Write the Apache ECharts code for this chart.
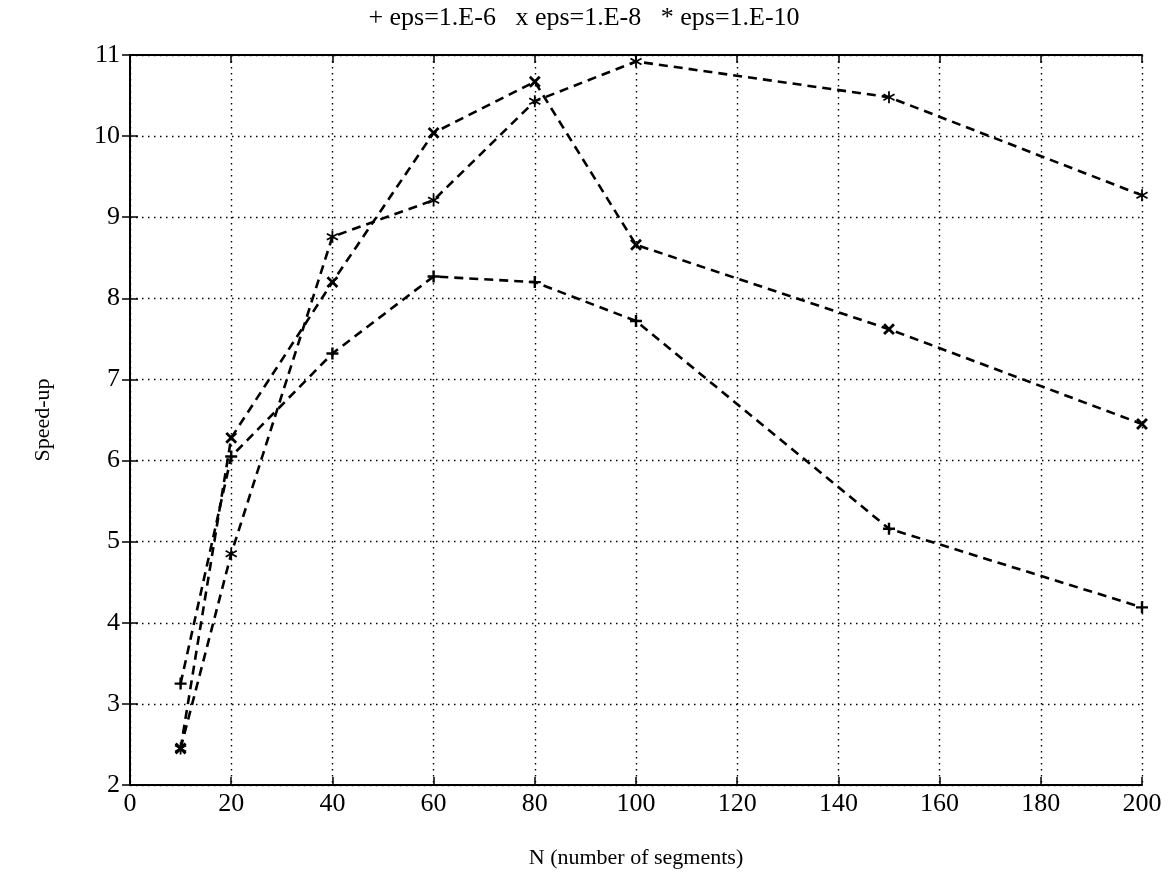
<!DOCTYPE html>
<html>
<head>
<meta charset="utf-8">
<script src="https://cdn.jsdelivr.net/npm/echarts@6/dist/echarts.min.js"></script>
<style>
html,body{margin:0;padding:0;background:#fff;}
#chart{width:1168px;height:887px;}
</style>
</head>
<body>
<div id="chart"></div>
<script>
const xValues = [10, 20, 40, 60, 80, 100, 150, 200];
const eps6 = [3.25, 6.05, 7.32, 8.27, 8.2, 7.72, 5.16, 4.19];
const eps8 = [2.45, 6.28, 8.2, 10.04, 10.67, 8.66, 7.62, 6.45];
const eps10 = [2.45, 4.85, 8.76, 9.21, 10.43, 10.92, 10.48, 9.27];
const legendText = '+ eps=1.E-6   x eps=1.E-8   * eps=1.E-10';
const xName = 'N (number of segments)';
const yName = 'Speed-up';

const font = 'Liberation Serif';
const plusPath = 'path://M4,0H6V4H10V6H6V10H4V6H0V4H4Z';
const starPath = 'path://M4.3,0H5.7V3.8L9,1.9L9.7,3.1L6.4,5L9.7,6.9L9,8.1L5.7,6.2V10H4.3V6.2L1,8.1L0.3,6.9L3.6,5L0.3,3.1L1,1.9L4.3,3.8Z';

function pairs(ys){ return xValues.map((x,i)=>[x, ys[i]]); }
function mkSeries(name, ys, symbol, rot, size){
  return {
    name: name, type: 'line', data: pairs(ys),
    symbol: symbol, symbolSize: size, symbolRotate: rot,
    itemStyle: {color: '#000'},
    lineStyle: {color: '#000', width: 2.6, type: [9, 6]},
    animation: false
  };
}

const chart = echarts.init(document.getElementById('chart'));
chart.setOption({
  backgroundColor: '#fff',
  animation: false,
  title: {
    text: legendText, left: 'center', top: 0,
    textStyle: {fontFamily: font, fontSize: 26, fontWeight: 'normal', color: '#000'}
  },
  grid: {left: 130, right: 26, top: 55, bottom: 102},
  xAxis: [{
    type: 'value', min: 0, max: 200, interval: 20, position: 'bottom',
    name: xName, nameLocation: 'middle', nameGap: 62,
    nameTextStyle: {fontFamily: font, fontSize: 22, color: '#000'},
    axisLine: {show: true, lineStyle: {color: '#000', width: 2}},
    axisTick: {show: true, inside: true, length: 8, lineStyle: {color: '#000', width: 1.5}},
    axisLabel: {fontFamily: font, fontSize: 26, color: '#000', margin: 6},
    splitLine: {show: true, lineStyle: {color: '#000', width: 1.4, type: [1.5, 4.5]}}
  }, {
    type: 'value', min: 0, max: 200, interval: 20, position: 'top',
    axisLine: {show: true, lineStyle: {color: '#000', width: 2}},
    axisTick: {show: true, inside: true, length: 8, lineStyle: {color: '#000', width: 1.5}},
    axisLabel: {show: false}, splitLine: {show: false}
  }],
  yAxis: [{
    type: 'value', min: 2, max: 11, interval: 1, position: 'left',
    name: yName, nameLocation: 'middle', nameGap: 76, nameRotate: 90,
    nameTextStyle: {fontFamily: font, fontSize: 22, color: '#000'},
    axisLine: {show: true, lineStyle: {color: '#000', width: 2}},
    axisTick: {show: true, inside: true, length: 8, lineStyle: {color: '#000', width: 1.5}},
    axisLabel: {fontFamily: font, fontSize: 26, color: '#000', margin: 10},
    splitLine: {show: true, lineStyle: {color: '#000', width: 1.4, type: [1.5, 4.5]}}
  }, {
    type: 'value', min: 2, max: 11, interval: 1, position: 'right',
    axisLine: {show: true, lineStyle: {color: '#000', width: 2}},
    axisTick: {show: true, inside: true, length: 8, lineStyle: {color: '#000', width: 1.5}},
    axisLabel: {show: false}, splitLine: {show: false}
  }],
  series: [
    mkSeries('eps=1.E-6', eps6, plusPath, 0, 12),
    mkSeries('eps=1.E-8', eps8, plusPath, 45, 14),
    mkSeries('eps=1.E-10', eps10, starPath, 0, 12)
  ]
});
</script>
</body>
</html>
